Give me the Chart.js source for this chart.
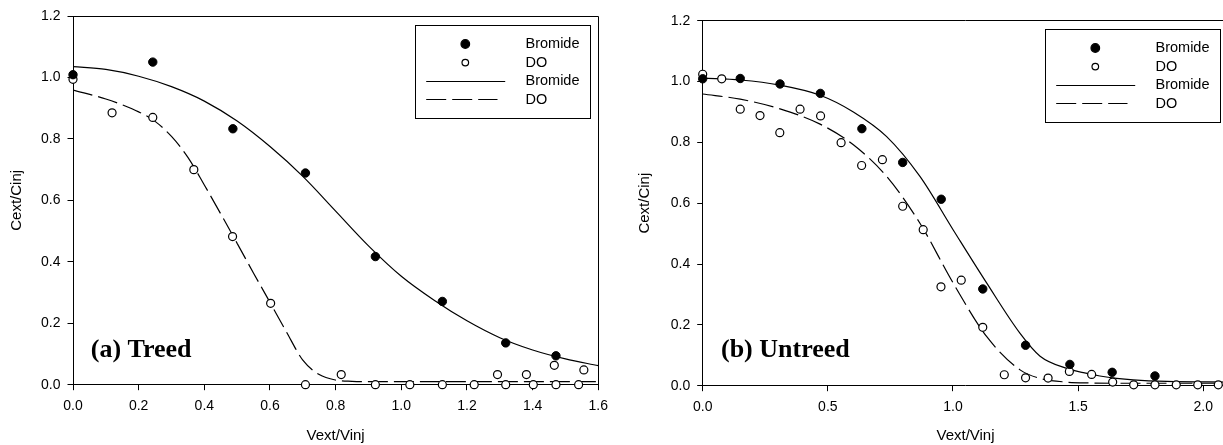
<!DOCTYPE html>
<html>
<head>
<meta charset="utf-8">
<script src="https://cdn.jsdelivr.net/npm/chart.js@4.4.0/dist/chart.umd.min.js"></script>
<style>
  html, body { margin: 0; padding: 0; background: #fff; }
  body { width: 1223px; height: 445px; overflow: hidden; position: relative; }
  .panel { position: absolute; top: 0; width: 611px; height: 445px; }
</style>
</head>
<body>
<div class="panel" style="left:0"><canvas id="treed" width="611" height="445"></canvas></div>
<div class="panel" style="left:630px"><canvas id="untreed" width="611" height="445"></canvas></div>
<script>
// (a) Treed - measured
const treedBromideX = [0, 0.243, 0.487, 0.708, 0.921, 1.125, 1.318, 1.471];
const treedBromideY = [1.009, 1.050, 0.833, 0.689, 0.417, 0.271, 0.136, 0.094];
const treedDoX = [0, 0.119, 0.243, 0.368, 0.486, 0.602, 0.708, 0.817, 0.921, 1.026, 1.125, 1.222, 1.293, 1.318, 1.381, 1.402, 1.466, 1.471, 1.540, 1.556];
const treedDoY = [0.994, 0.885, 0.870, 0.700, 0.482, 0.265, 0.000, 0.033, 0.000, 0.000, 0.000, 0.000, 0.033, 0.000, 0.033, 0.000, 0.063, 0.000, 0.000, 0.048];
// (a) Treed - fitted curves
const treedBromideFitX = [0, 0.1, 0.2, 0.3, 0.4, 0.5, 0.6, 0.7, 0.8, 0.9, 1.0, 1.1, 1.2, 1.3, 1.4, 1.5, 1.6];
const treedBromideFitY = [1.035, 1.026, 1.004, 0.970, 0.923, 0.858, 0.775, 0.678, 0.565, 0.452, 0.353, 0.275, 0.208, 0.153, 0.113, 0.084, 0.062];
const treedDoFitX = [0, 0.1, 0.15, 0.2, 0.25, 0.3, 0.35, 0.4, 0.45, 0.5, 0.55, 0.6, 0.65, 0.7, 0.75, 0.8, 0.85, 0.9, 1.0, 1.2, 1.4, 1.6];
const treedDoFitY = [0.959, 0.930, 0.911, 0.888, 0.857, 0.808, 0.740, 0.650, 0.556, 0.460, 0.363, 0.268, 0.172, 0.080, 0.033, 0.015, 0.011, 0.010, 0.010, 0.010, 0.010, 0.010];

// (b) Untreed - measured
const untreedBromideX = [0, 0.150, 0.309, 0.470, 0.636, 0.799, 0.953, 1.119, 1.290, 1.467, 1.636, 1.807];
const untreedBromideY = [1.009, 1.010, 0.992, 0.961, 0.845, 0.734, 0.613, 0.318, 0.133, 0.070, 0.044, 0.032];
const untreedDoX = [0, 0.076, 0.150, 0.229, 0.308, 0.389, 0.471, 0.553, 0.635, 0.718, 0.799, 0.881, 0.952, 1.033, 1.119, 1.205, 1.290, 1.380, 1.465, 1.554, 1.638, 1.722, 1.807, 1.892, 1.978, 2.060];
const untreedDoY = [1.024, 1.009, 0.909, 0.888, 0.832, 0.909, 0.887, 0.799, 0.724, 0.743, 0.590, 0.513, 0.325, 0.347, 0.192, 0.036, 0.026, 0.025, 0.047, 0.037, 0.012, 0.003, 0.003, 0.003, 0.003, 0.003];
// (b) Untreed - fitted curves
const untreedBromideFitX = [0, 0.15, 0.309, 0.469, 0.602, 0.735, 0.868, 1.001, 1.135, 1.268, 1.348, 1.454, 1.521, 1.587, 1.654, 1.72, 1.854, 2.1];
const untreedBromideFitY = [1.011, 1.005, 0.988, 0.955, 0.900, 0.819, 0.688, 0.512, 0.337, 0.172, 0.097, 0.057, 0.043, 0.032, 0.024, 0.019, 0.014, 0.012];
const untreedDoFitX = [0, 0.15, 0.309, 0.469, 0.602, 0.735, 0.868, 1.001, 1.135, 1.268, 1.348, 1.45, 1.55, 1.7, 1.9, 2.1];
const untreedDoFitY = [0.959, 0.942, 0.910, 0.860, 0.792, 0.688, 0.534, 0.337, 0.161, 0.052, 0.024, 0.012, 0.009, 0.008, 0.008, 0.008];

// tick labels
const yTicks = [0, 0.2, 0.4, 0.6, 0.8, 1.0, 1.2];
const treedXTicks = [0, 0.2, 0.4, 0.6, 0.8, 1.0, 1.2, 1.4, 1.6];
const untreedXTicks = [0, 0.5, 1.0, 1.5, 2.0];

const SANS = '"Liberation Sans", Arial, Helvetica, sans-serif';
Chart.defaults.font.family = SANS;
Chart.defaults.font.size = 14;
Chart.defaults.color = '#000';

const zip = (xs, ys) => xs.map((x, i) => ({ x: x, y: ys[i] }));
const crisp = v => Math.round(v - 0.5) + 0.5;

// frame on top/right, panel label and the boxed legend inside the plot
const panelDecor = {
  id: 'panelDecor',
  afterDraw(chart, args, opts) {
    const { ctx, chartArea: a, scales } = chart;
    ctx.save();
    ctx.strokeStyle = '#000';
    ctx.lineWidth = 1;
    ctx.beginPath();
    ctx.moveTo(crisp(a.left), crisp(a.top));
    ctx.lineTo(crisp(a.right), crisp(a.top));
    ctx.lineTo(crisp(a.right), crisp(a.bottom));
    ctx.stroke();

    ctx.fillStyle = '#000';
    ctx.font = 'bold 26px "Liberation Serif", "Times New Roman", serif';
    ctx.textBaseline = 'alphabetic';
    ctx.textAlign = 'left';
    ctx.fillText(opts.label, scales.x.getPixelForValue(opts.at[0]), scales.y.getPixelForValue(opts.at[1]));

    const w = 175, h = 93;
    const bx = crisp(a.right - 8.3 - w), by = crisp(a.top + 9);
    ctx.strokeRect(bx, by, w, h);
    ctx.font = '14.5px ' + SANS;
    ctx.textBaseline = 'middle';
    chart.data.datasets.forEach((ds, i) => {
      const y = by + 18.5 + i * 18.6;
      if (ds.showLine) {
        const ly = crisp(y);
        ctx.lineWidth = ds.borderWidth;
        ctx.setLineDash(ds.borderDash || []);
        ctx.beginPath();
        ctx.moveTo(bx + 10.7, ly);
        ctx.lineTo(bx + (ds.borderDash ? 82 : 89.7), ly);
        ctx.stroke();
        ctx.setLineDash([]);
      } else {
        ctx.lineWidth = 1.2;
        ctx.beginPath();
        ctx.arc(bx + 49.8, y, ds.backgroundColor === '#000' ? 4.3 : 3.3, 0, Math.PI * 2);
        ctx.fillStyle = ds.backgroundColor;
        ctx.fill();
        ctx.stroke();
        ctx.fillStyle = '#000';
      }
      ctx.fillText(ds.label, bx + 110, y);
    });
    ctx.restore();
  }
};

function makeDatasets(bx, by, dx, dy, bfx, bfy, dfx, dfy) {
  return [
    { label: 'Bromide', data: zip(bx, by), backgroundColor: '#000', borderColor: '#000',
      pointRadius: 4.2, pointBorderWidth: 1, showLine: false, clip: false },
    { label: 'DO', data: zip(dx, dy), backgroundColor: '#fff', borderColor: '#000',
      pointRadius: 4, pointBorderWidth: 1.2, showLine: false, clip: false },
    { label: 'Bromide', data: zip(bfx, bfy), borderColor: '#000', borderWidth: 1.2,
      showLine: true, pointRadius: 0, cubicInterpolationMode: 'monotone', fill: false },
    { label: 'DO', data: zip(dfx, dfy), borderColor: '#000', borderWidth: 1.2, borderDash: [20, 6],
      showLine: true, pointRadius: 0, cubicInterpolationMode: 'monotone', fill: false }
  ];
}

function makeOptions(p) {
  const tickGrid = { display: true, drawOnChartArea: false, drawTicks: true, tickLength: 5.5, tickColor: '#000', tickWidth: 1 };
  const border = { display: true, color: '#000', width: 1 };
  return {
    responsive: false,
    devicePixelRatio: 1,
    animation: false,
    events: [],
    layout: { padding: { left: 0, top: p.top, right: 12.7, bottom: 0 } },
    scales: {
      x: {
        type: 'linear', min: 0, max: p.xMax,
        afterBuildTicks: s => { s.ticks = p.xTicks.map(v => ({ value: v })); },
        afterFit: s => { s.height = p.xHeight; s.paddingLeft = 0; s.paddingRight = 0; },
        grid: tickGrid, border: border,
        ticks: { padding: 8, maxRotation: 0, autoSkip: false, callback: v => Number(v).toFixed(1) },
        title: { display: true, text: 'Vext/Vinj', font: { size: 15 }, padding: { top: 0, bottom: 0 } }
      },
      y: {
        type: 'linear', min: 0, max: 1.2,
        afterBuildTicks: s => { s.ticks = yTicks.map(v => ({ value: v })); },
        afterFit: s => { s.width = p.yWidth; s.paddingTop = 0; s.paddingBottom = 0; },
        grid: tickGrid, border: border,
        ticks: { padding: 7, autoSkip: false, callback: v => Number(v).toFixed(1) },
        title: { display: true, text: 'Cext/Cinj', font: { size: 15 }, padding: { top: p.yTitlePad, bottom: 0 } }
      }
    },
    plugins: {
      legend: { display: false },
      tooltip: { enabled: false },
      panelDecor: { label: p.label, at: p.labelAt }
    }
  };
}

new Chart(document.getElementById('treed'), {
  type: 'scatter',
  data: { datasets: makeDatasets(treedBromideX, treedBromideY, treedDoX, treedDoY,
    treedBromideFitX, treedBromideFitY, treedDoFitX, treedDoFitY) },
  options: makeOptions({ top: 16, xMax: 1.6, xTicks: treedXTicks, xHeight: 60.3, yWidth: 73,
    yTitlePad: 7.8, label: '(a) Treed', labelAt: [0.054, 0.091] }),
  plugins: [panelDecor]
});

new Chart(document.getElementById('untreed'), {
  type: 'scatter',
  data: { datasets: makeDatasets(untreedBromideX, untreedBromideY, untreedDoX, untreedDoY,
    untreedBromideFitX, untreedBromideFitY, untreedDoFitX, untreedDoFitY) },
  options: makeOptions({ top: 20.7, xMax: 2.1, xTicks: untreedXTicks, xHeight: 59.3, yWidth: 72.7,
    yTitlePad: 6.1, label: '(b) Untreed', labelAt: [0.073, 0.095] }),
  plugins: [panelDecor]
});
</script>
</body>
</html>
